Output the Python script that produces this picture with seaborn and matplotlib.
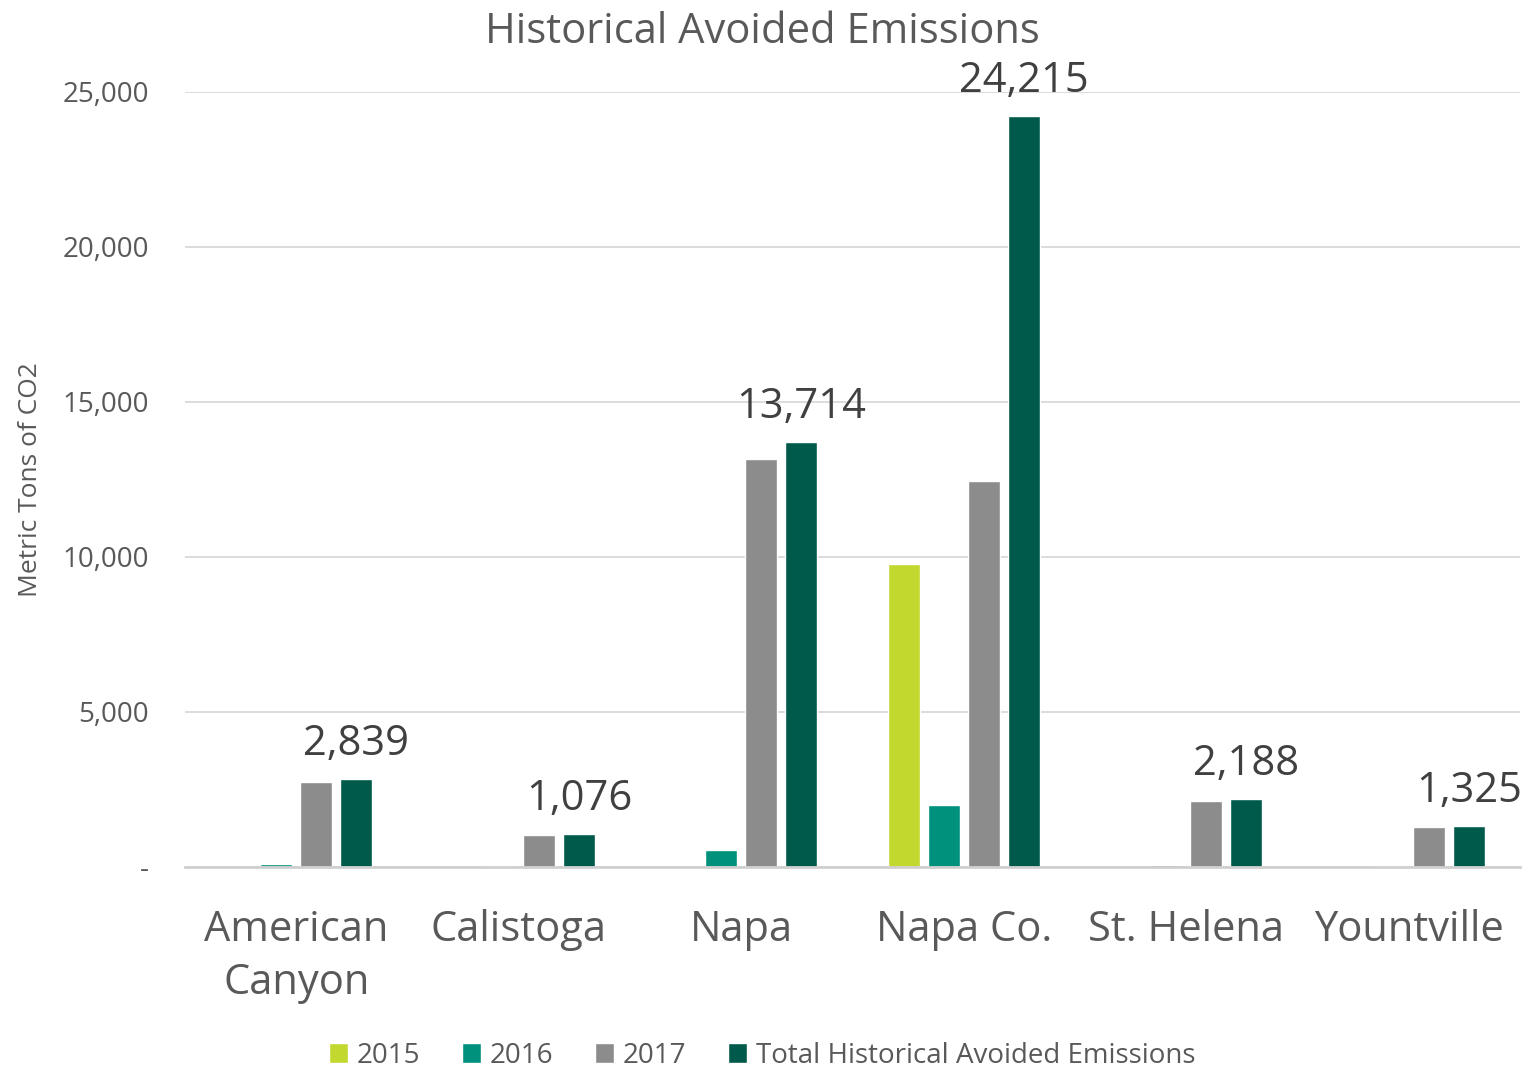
import numpy as np
import pandas as pd
import matplotlib
matplotlib.use("Agg")
import matplotlib.pyplot as plt
import seaborn as sns
from matplotlib.ticker import FuncFormatter

cities = ["American\nCanyon", "Calistoga", "Napa", "Napa Co.", "St. Helena", "Yountville"]
series = ["2015", "2016", "2017", "Total Historical Avoided Emissions"]
y2015 = [0, 0, 0, 9770, 0, 0]
y2016 = [95, 40, 540, 1990, 60, 30]
y2017 = [2744, 1036, 13174, 12455, 2128, 1295]
total = [2839, 1076, 13714, 24215, 2188, 1325]
colors = ["#C3D82F", "#00917C", "#8C8C8C", "#005A4B"]

rows = []
for vals, name in zip([y2015, y2016, y2017, total], series):
    for c, v in zip(cities, vals):
        rows.append({"city": c, "series": name, "value": v})
df = pd.DataFrame(rows)

sns.set_theme(style="white")
plt.rcParams["font.family"] = ["Open Sans", "DejaVu Sans"]
text_gray = "#595959"

fig = plt.figure(figsize=(15.24, 10.71), dpi=100)
ax = fig.add_axes([0.1214, 0.1905, 0.876, 0.7236])

sns.barplot(data=df, x="city", y="value", hue="series", hue_order=series,
            palette=colors, width=0.72, gap=0.2, ax=ax, saturation=1,
            legend=True)

ax.set_ylim(0, 25000)
ax.set_yticks(np.arange(0, 25001, 5000))
ax.yaxis.set_major_formatter(FuncFormatter(lambda v, p: "-" if v == 0 else f"{v:,.0f}"))
ax.grid(axis="y", color="#D9D9D9", linewidth=1.3)
ax.set_axisbelow(True)
for s in ["top", "right", "left"]:
    ax.spines[s].set_visible(False)
ax.spines["bottom"].set_color("#D0D0D0")
ax.spines["bottom"].set_linewidth(2)

ax.tick_params(axis="y", labelsize=20, labelcolor=text_gray, length=0, pad=26)
ax.tick_params(axis="x", labelsize=30, labelcolor=text_gray, length=0, pad=30)
for lbl in ax.get_xticklabels():
    lbl.set_linespacing(1.35)
ax.set_xlabel("")
ax.set_ylabel("Metric Tons of CO2", fontsize=19, color=text_gray, labelpad=14)

# data labels on the totals
tot_container = ax.containers[3]
ax.bar_label(tot_container, labels=[f"{v:,.0f}" for v in total], fontsize=30,
             color="#404040", padding=10, clip_on=False)

fig.suptitle("Historical Avoided Emissions", fontsize=30, color=text_gray, y=0.99)

leg = ax.legend(loc="lower center", bbox_to_anchor=(0.5, -0.009), bbox_transform=fig.transFigure,
                ncol=4, frameon=False, fontsize=20, handlelength=0.7, handleheight=0.7,
                handletextpad=0.3, columnspacing=1.5, borderaxespad=0.0)
for t in leg.get_texts():
    t.set_color(text_gray)

fig.savefig("out.png", dpi=100)
